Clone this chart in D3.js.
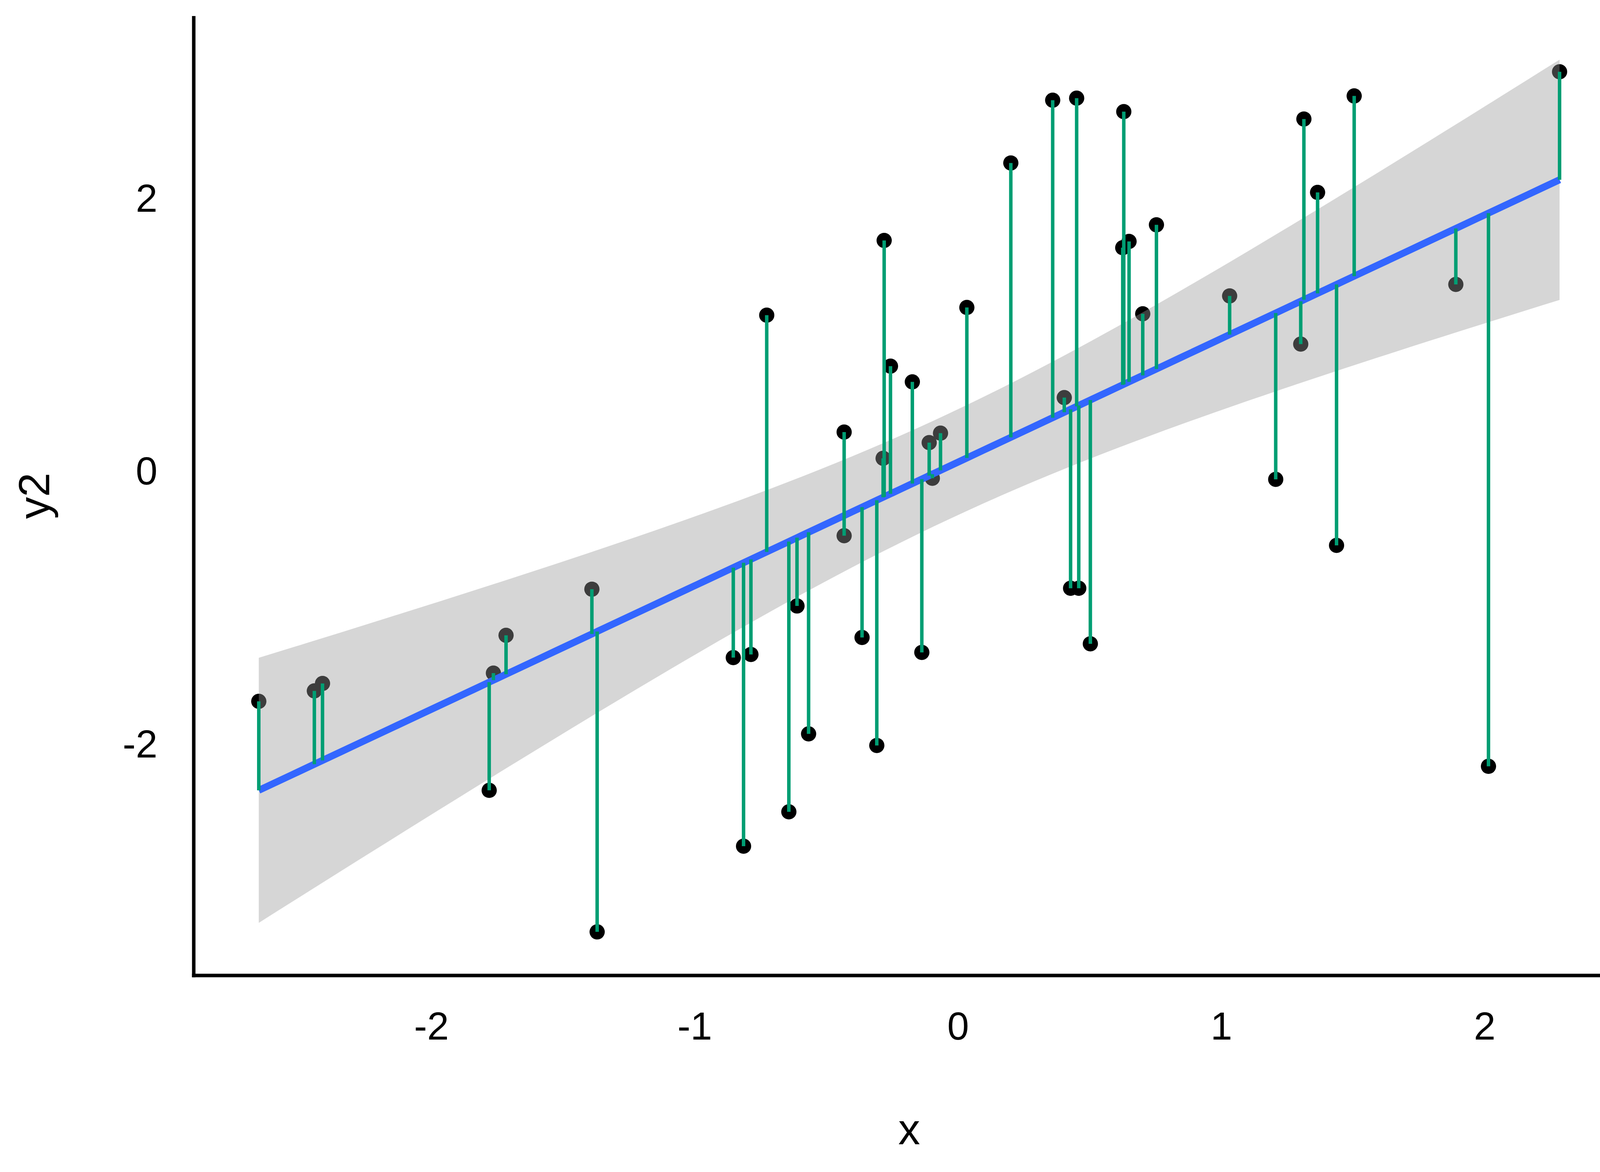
<!DOCTYPE html>
<html>
<head>
<meta charset="utf-8">
<script src="https://cdn.jsdelivr.net/npm/d3@7"></script>
<style>
  html, body { margin: 0; padding: 0; background: #ffffff; }
  svg { display: block; }
</style>
</head>
<body>
<svg id="chart" width="4200" height="3000"></svg>
<script>
// ---- data ----
const xValues = [
  -2.655, -2.444, -2.413, -1.780, -1.764, -1.716, -1.390, -1.370, -0.853, -0.814,
  -0.786, -0.726, -0.642, -0.611, -0.567, -0.432, -0.432, -0.364, -0.308, -0.284,
  -0.280, -0.256, -0.173, -0.137, -0.109, -0.097, -0.066, 0.034, 0.201, 0.360,
  0.404, 0.428, 0.451, 0.459, 0.503, 0.626, 0.630, 0.650, 0.702, 0.754,
  1.032, 1.207, 1.302, 1.314, 1.366, 1.438, 1.505, 1.891, 2.015, 2.285
];
const y2Values = [
  -1.693, -1.616, -1.562, -2.345, -1.486, -1.209, -0.871, -3.382, -1.372, -2.754,
  -1.349, 1.137, -2.502, -0.994, -1.931, 0.280, -0.479, -1.225, -2.016, 0.088,
  1.684, 0.763, 0.648, -1.334, 0.203, -0.058, 0.272, 1.193, 2.252, 2.712,
  0.533, -0.864, 2.727, -0.864, -1.271, 1.631, 2.628, 1.677, 1.147, 1.799,
  1.278, -0.066, 0.925, 2.574, 2.036, -0.550, 2.743, 1.362, -2.169, 2.920
];
const xTickValues = [-2, -1, 0, 1, 2];
const xTickLabels = ["-2", "-1", "0", "1", "2"];
const yTickValues = [-2, 0, 2];
const yTickLabels = ["-2", "0", "2"];
const xTitle = "x";
const yTitle = "y2";

// ---- linear model (as geom_smooth(method = "lm")) ----
const points = xValues.map((x, i) => ({ x, y: y2Values[i] }));
const n = points.length;
const mx = d3.mean(xValues), my = d3.mean(y2Values);
const sxx = d3.sum(xValues, x => (x - mx) * (x - mx));
const sxy = d3.sum(points, p => (p.x - mx) * (p.y - my));
const slope = sxy / sxx;
const intercept = my - slope * mx;
const predict = x => intercept + slope * x;
const sse = d3.sum(points, p => (p.y - predict(p.x)) ** 2);
const sigma = Math.sqrt(sse / (n - 2));
const tCrit = 2.010635; // qt(0.975, 48)
points.forEach(p => { p.fit = predict(p.x); });
const [xMin, xMax] = d3.extent(xValues);
const smooth = d3.range(80).map(i => {
  const x = xMin + (xMax - xMin) * i / 79;
  const fit = predict(x);
  const se = sigma * Math.sqrt(1 / n + (x - mx) ** 2 / sxx);
  return { x, fit, lo: fit - tCrit * se, hi: fit + tCrit * se };
});

// ---- layout ----
const W = 4200, H = 3000;
const panel = { left: 496, right: 4159, top: 41, bottom: 2497 };
const expand = (lo, hi) => { const d = (hi - lo) * 0.05; return [lo - d, hi + d]; };
const yLo = Math.min(d3.min(y2Values), d3.min(smooth, d => d.lo));
const yHi = Math.max(d3.max(y2Values), d3.max(smooth, d => d.hi));

const x = d3.scaleLinear().domain(expand(xMin, xMax)).range([panel.left, panel.right]);
const y = d3.scaleLinear().domain(expand(yLo, yHi)).range([panel.bottom, panel.top]);

const svg = d3.select("#chart");
svg.append("rect").attr("width", W).attr("height", H).attr("fill", "#ffffff");

const font = "'Liberation Sans', Arial, Helvetica, sans-serif";

// points (drawn first, the ribbon sits on top of them)
svg.append("g").selectAll("circle").data(points).join("circle")
  .attr("cx", d => x(d.x))
  .attr("cy", d => y(d.y))
  .attr("r", 19.5)
  .attr("fill", "#000000");

// confidence ribbon
svg.append("path")
  .datum(smooth)
  .attr("d", d3.area().x(d => x(d.x)).y0(d => y(d.lo)).y1(d => y(d.hi)))
  .attr("fill", "#999999")
  .attr("fill-opacity", 0.4);

// fitted line
svg.append("path")
  .datum(smooth)
  .attr("d", d3.line().x(d => x(d.x)).y(d => y(d.fit)))
  .attr("fill", "none")
  .attr("stroke", "#3366FF")
  .attr("stroke-width", 17.8);

// residual segments
svg.append("g").selectAll("line").data(points).join("line")
  .attr("x1", d => x(d.x)).attr("x2", d => x(d.x))
  .attr("y1", d => y(d.y)).attr("y2", d => y(d.fit))
  .attr("stroke", "#009E73")
  .attr("stroke-width", 8.9)
  .attr("stroke-linecap", "butt");

// axes
const xAxis = d3.axisBottom(x)
  .tickValues(xTickValues)
  .tickFormat((d, i) => xTickLabels[i])
  .tickSize(0).tickSizeOuter(0).tickPadding(93);
const gx = svg.append("g").attr("transform", `translate(0,${panel.bottom})`).call(xAxis);
gx.select(".domain").attr("stroke", "#000").attr("stroke-width", 8.9)
  .attr("d", `M${panel.left - 4.45},0H${panel.right}`);
gx.selectAll("text").attr("font-size", 100).attr("font-family", font).attr("fill", "#000");

const yAxis = d3.axisLeft(y)
  .tickValues(yTickValues)
  .tickFormat((d, i) => yTickLabels[i])
  .tickSize(0).tickSizeOuter(0).tickPadding(93);
const gy = svg.append("g").attr("transform", `translate(${panel.left},0)`).call(yAxis);
gy.select(".domain").attr("stroke", "#000").attr("stroke-width", 8.9)
  .attr("d", `M0,${panel.top}V${panel.bottom + 4.45}`);
gy.selectAll("text").attr("font-size", 100).attr("font-family", font).attr("fill", "#000")
  .attr("dy", "0.36em");

// axis titles
svg.append("text")
  .attr("x", (panel.left + panel.right) / 2)
  .attr("y", 2929)
  .attr("text-anchor", "middle")
  .attr("font-size", 112)
  .attr("font-family", font)
  .attr("fill", "#000")
  .text(xTitle);

svg.append("text")
  .attr("transform", `translate(126,${(panel.top + panel.bottom) / 2}) rotate(-90)`)
  .attr("text-anchor", "middle")
  .attr("font-size", 112)
  .attr("font-family", font)
  .attr("fill", "#000")
  .text(yTitle);
</script>
</body>
</html>
